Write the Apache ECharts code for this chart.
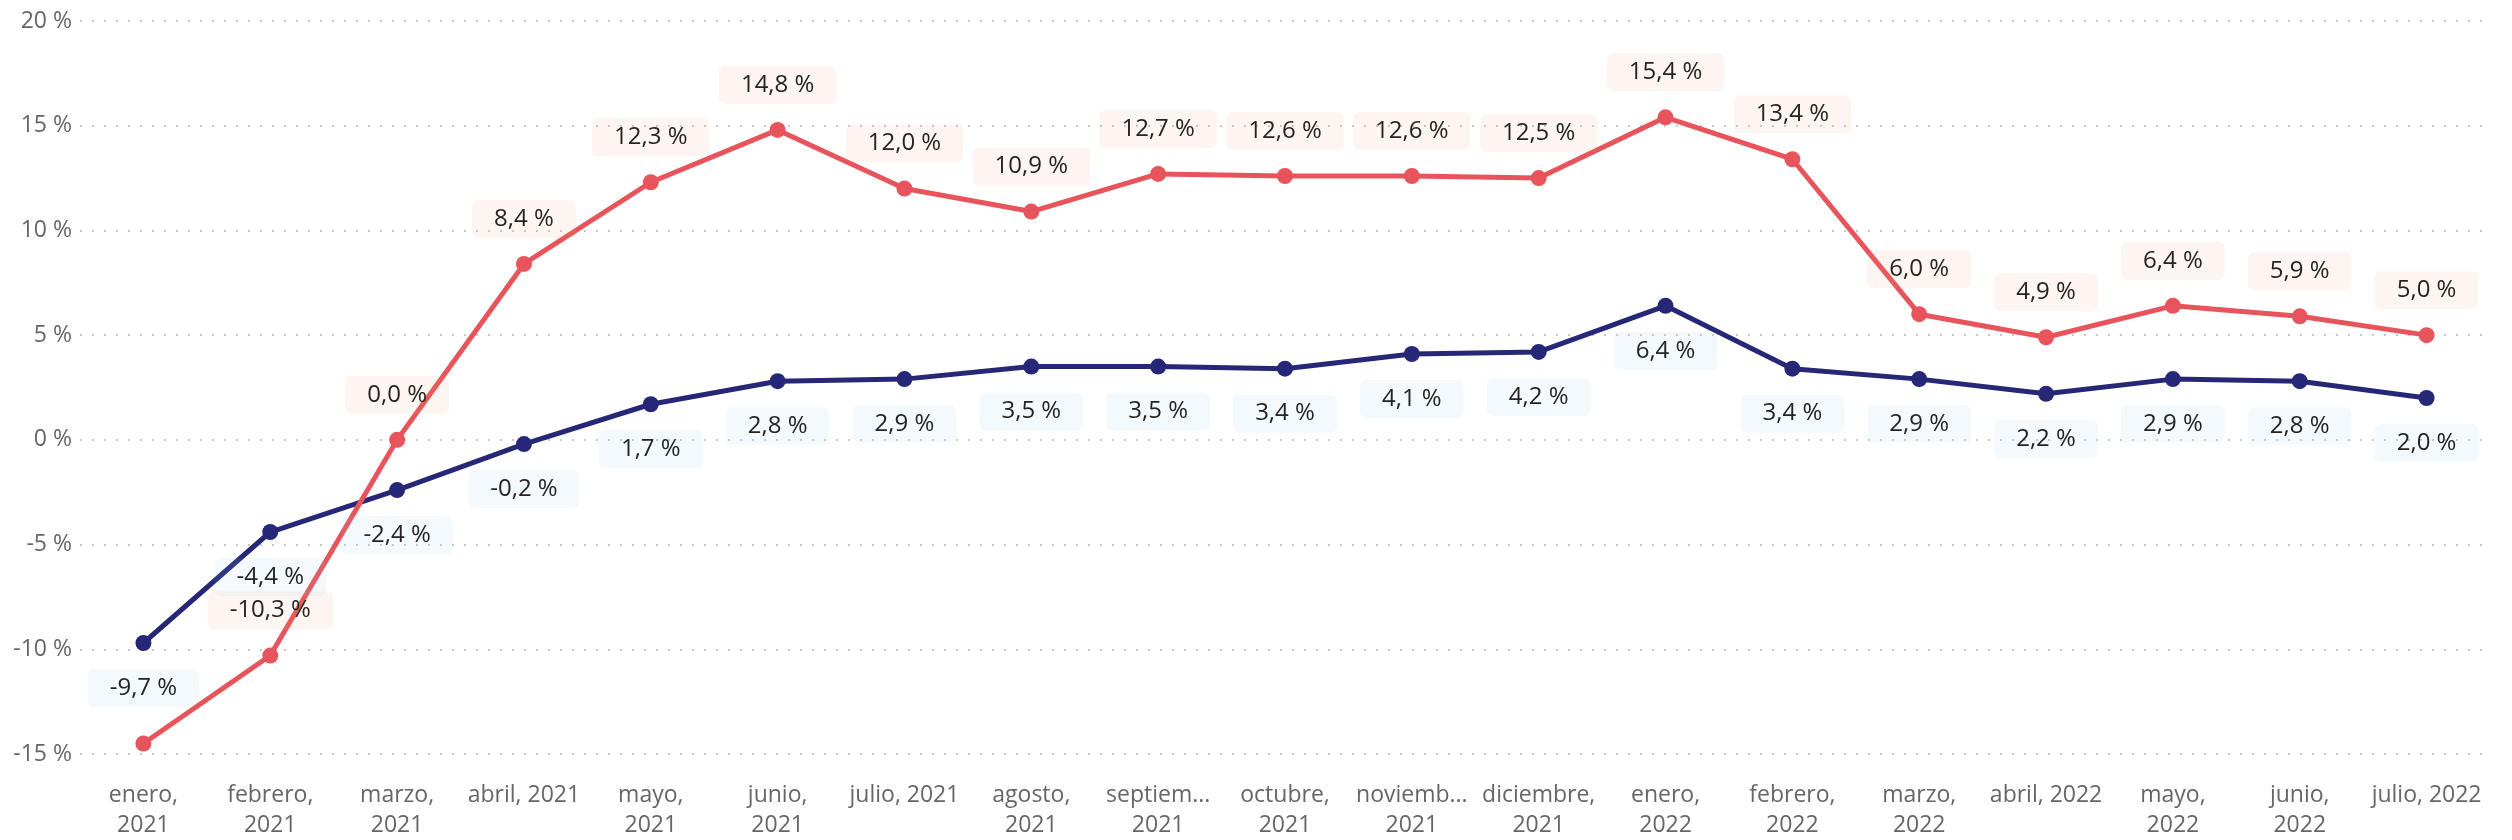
<!DOCTYPE html>
<html>
<head>
<meta charset="utf-8">
<script src="https://cdn.jsdelivr.net/npm/echarts@6/dist/echarts.min.js"></script>
<style>
  html, body { margin: 0; padding: 0; background: #fff; }
  #chart { width: 2512px; height: 840px; }
</style>
</head>
<body>
<div id="chart"></div>
<script>
// categorias (como se ven en el eje, con corte de linea)
const months = [
  "enero,\n2021", "febrero,\n2021", "marzo,\n2021", "abril, 2021", "mayo,\n2021",
  "junio,\n2021", "julio, 2021", "agosto,\n2021", "septiem...\n2021", "octubre,\n2021",
  "noviemb...\n2021", "diciembre,\n2021", "enero,\n2022", "febrero,\n2022", "marzo,\n2022",
  "abril, 2022", "mayo,\n2022", "junio,\n2022", "julio, 2022"
];
// serie azul
const blueValues = [-9.7, -4.4, -2.4, -0.2, 1.7, 2.8, 2.9, 3.5, 3.5, 3.4, 4.1, 4.2, 6.4, 3.4, 2.9, 2.2, 2.9, 2.8, 2.0];
// serie roja
const redValues = [-14.5, -10.3, 0.0, 8.4, 12.3, 14.8, 12.0, 10.9, 12.7, 12.6, 12.6, 12.5, 15.4, 13.4, 6.0, 4.9, 6.4, 5.9, 5.0];
// etiquetas ocultas en la serie roja (solapadas en el original)
const redHiddenLabels = [0];
// eje y
const yMin = -15, yMax = 20, yStep = 5;

const FONT = "'Segoe UI', 'Open Sans', sans-serif";
const fmt = v => v.toFixed(1).replace(".", ",") + " %";

const chart = echarts.init(document.getElementById("chart"));

// fondo de etiqueta semitransparente: la linea se ve a traves
function labelStyle(pos, bg) {
  return {
    show: true,
    position: pos,
    distance: 18,
    formatter: p => fmt(p.value),
    color: "#252423",
    fontFamily: FONT,
    fontSize: 24,
    lineHeight: 24,
    backgroundColor: bg,
    borderRadius: 6,
    padding: [7, 22]
  };
}

const option = {
  animation: false,
  backgroundColor: "#fff",
  grid: { left: 80, right: 22, top: 21, bottom: 84 },
  xAxis: {
    type: "category",
    data: months,
    axisLine: { show: false },
    axisTick: { show: false },
    axisLabel: {
      interval: 0,
      color: "#666666",
      fontFamily: FONT,
      fontSize: 23,
      lineHeight: 30,
      margin: 26
    }
  },
  yAxis: {
    type: "value",
    min: yMin,
    max: yMax,
    interval: yStep,
    axisLine: { show: false },
    axisTick: { show: false },
    axisLabel: {
      color: "#666666",
      fontFamily: FONT,
      fontSize: 23,
      margin: 8,
      formatter: v => v + " %"
    },
    splitLine: {
      lineStyle: { color: "#c8c8c8", width: 2, type: [2, 10] }
    }
  },
  series: [
    {
      name: "azul",
      type: "line",
      data: blueValues,
      color: "#262877",
      symbol: "circle",
      symbolSize: 16,
      lineStyle: { width: 5 },
      label: labelStyle("bottom", "rgba(135,195,235,0.1)")
    },
    {
      name: "rojo",
      type: "line",
      data: redValues.map((v, i) =>
        redHiddenLabels.includes(i) ? { value: v, label: { show: false } } : v
      ),
      color: "#e8545b",
      symbol: "circle",
      symbolSize: 16,
      lineStyle: { width: 5 },
      label: labelStyle("top", "rgba(235,160,120,0.1)")
    }
  ]
};

chart.setOption(option);
</script>
</body>
</html>
